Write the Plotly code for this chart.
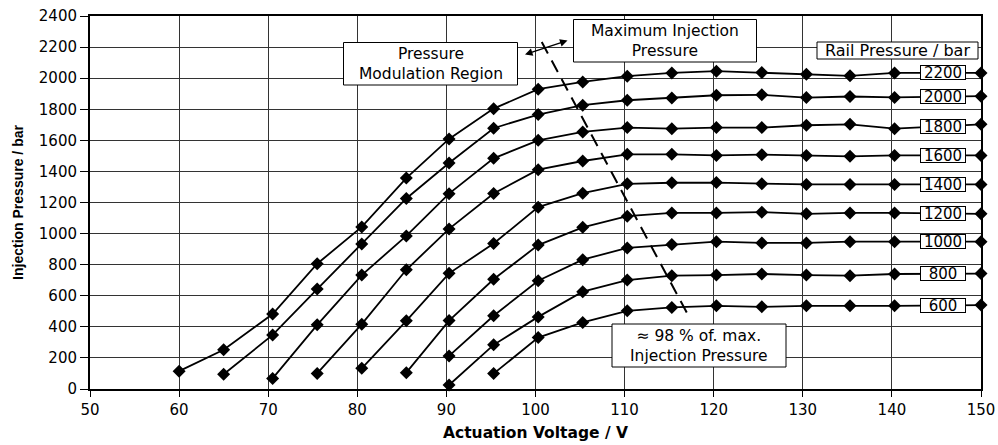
import plotly.graph_objects as go

# ---- data ----
voltage = [60, 65, 70.5, 75.5, 80.5, 85.5, 90.3, 95.3, 100.3, 105.3, 110.3,
           115.3, 120.3, 125.4, 130.4, 135.3, 140.3, 150]

rail_pressures = [2200, 2000, 1800, 1600, 1400, 1200, 1000, 800, 600]

inj_2200 = [115, 252, 482, 806, 1043, 1357, 1609, 1804, 1929, 1976, 2013, 2034, 2045, 2036, 2025, 2015, 2034, 2034]
inj_2000 = [None, 95, 348, 643, 933, 1226, 1454, 1678, 1766, 1826, 1858, 1873, 1890, 1893, 1875, 1882, 1876, 1884]
inj_1800 = [None, None, 68, 413, 733, 985, 1257, 1484, 1600, 1654, 1682, 1675, 1682, 1682, 1697, 1703, 1675, 1703]
inj_1600 = [None, None, None, 100, 417, 767, 1030, 1258, 1411, 1467, 1510, 1510, 1503, 1508, 1503, 1497, 1503, 1503]
inj_1400 = [None, None, None, None, 133, 439, 744, 936, 1170, 1260, 1320, 1327, 1328, 1320, 1316, 1316, 1316, 1316]
inj_1200 = [None, None, None, None, None, 105, 440, 706, 926, 1040, 1112, 1133, 1133, 1138, 1127, 1133, 1133, 1127]
inj_1000 = [None, None, None, None, None, None, 213, 471, 697, 832, 908, 929, 948, 940, 940, 948, 948, 948]
inj_800 = [None, None, None, None, None, None, 26, 284, 464, 626, 701, 729, 733, 740, 733, 729, 740, 743]
inj_600 = [None, None, None, None, None, None, None, 99, 331, 428, 503, 525, 535, 529, 535, 535, 535, 540]

series = {2200: inj_2200, 2000: inj_2000, 1800: inj_1800, 1600: inj_1600,
          1400: inj_1400, 1200: inj_1200, 1000: inj_1000, 800: inj_800, 600: inj_600}

x_ticks = [50, 60, 70, 80, 90, 100, 110, 120, 130, 140, 150]
y_ticks = [0, 200, 400, 600, 800, 1000, 1200, 1400, 1600, 1800, 2000, 2200, 2400]

# dashed "98 %" boundary line (data coordinates)
boundary_x = [100.7, 117.3]
boundary_y = [2233, 457]
label_x = 145.7

TXT = "DejaVu Sans"

fig = go.Figure()
for rp in rail_pressures:
    vals = series[rp]
    xs = [v for v, p in zip(voltage, vals) if p is not None]
    ys = [p for p in vals if p is not None]
    fig.add_trace(go.Scatter(
        x=xs, y=ys, mode="lines+markers",
        line=dict(color="black", width=1.8),
        marker=dict(symbol="diamond", size=10, color="black"),
        cliponaxis=False, showlegend=False, name=str(rp)))

# layout geometry (pixels)
L, R, T, B = 90, 17, 16, 56
W, H = 998, 445
pw, ph = W - L - R, H - T - B


def px(xp):
    return (xp - L) / pw


def py(yp):
    return (H - B - yp) / ph


annotations = []
shapes = []

# rail pressure labels on the lines
for rp in rail_pressures:
    vals = series[rp]
    annotations.append(dict(
        x=label_x, y=(vals[-1] + vals[-2]) / 2, xref="x", yref="y",
        text=str(rp), showarrow=False, bgcolor="white", bordercolor="black",
        borderwidth=1, borderpad=0, width=44, height=13,
        font=dict(family=TXT, size=15, color="black")))


def boxed(x0, y0, x1, y1, text, size=15.5):
    shapes.append(dict(type="rect", xref="paper", yref="paper",
                       x0=px(x0), x1=px(x1), y0=py(y1), y1=py(y0),
                       line=dict(color="black", width=1), fillcolor="white",
                       layer="above"))
    annotations.append(dict(
        x=px((x0 + x1) / 2), y=py((y0 + y1) / 2), xref="paper", yref="paper",
        text=text, showarrow=False, xanchor="center", yanchor="middle",
        align="center", font=dict(family=TXT, size=size, color="black")))


boxed(343.5, 42.5, 517.5, 85, "Pressure<br>Modulation Region")
boxed(573.5, 19.5, 756.5, 62, "Maximum Injection<br>Pressure")
boxed(612, 324, 786, 367, "\u2248 98 % of. max.<br>Injection Pressure")
boxed(817, 42, 978, 59, "Rail Pressure / bar", size=16)

# double-headed arrow
annotations.append(dict(
    x=px(567.5), y=py(40.5), xref="paper", yref="paper", text="",
    showarrow=True, ax=-44, ay=14.5, axref="pixel", ayref="pixel",
    arrowhead=2, startarrowhead=2, arrowside="end+start",
    arrowsize=1, startarrowsize=1, arrowwidth=1.5, arrowcolor="black"))

shapes.insert(0, dict(type="line", xref="x", yref="y",
                      x0=boundary_x[0], y0=boundary_y[0], x1=boundary_x[1], y1=boundary_y[1],
                      line=dict(color="black", width=2, dash="13px,8px"), layer="above"))

fig.update_layout(
    width=W, height=H, autosize=False,
    margin=dict(l=L, r=R, t=T, b=B, pad=0, autoexpand=False),
    paper_bgcolor="white", plot_bgcolor="white",
    annotations=annotations, shapes=shapes,
    xaxis=dict(range=[50, 150], tickvals=x_ticks, ticktext=[str(v) for v in x_ticks],
               showgrid=True, gridcolor="#333333", gridwidth=1,
               showline=True, linecolor="black", linewidth=2, mirror=True,
               ticks="outside", ticklen=6, tickcolor="black", tickwidth=1,
               zeroline=False, automargin=False,
               tickfont=dict(family=TXT, size=15, color="black"),
               title=dict(text="Actuation Voltage / V", standoff=9,
                          font=dict(family="DejaVu Sans", size=15.5, color="black",
                                    weight="bold"))),
    yaxis=dict(range=[0, 2400], tickvals=y_ticks, ticktext=[str(v) for v in y_ticks],
               showgrid=True, gridcolor="#333333", gridwidth=1,
               showline=True, linecolor="black", linewidth=2, mirror=True,
               ticks="outside", ticklen=8, tickcolor="black", tickwidth=1,
               zeroline=False, automargin=False,
               tickfont=dict(family=TXT, size=15, color="black"),
               title=dict(text="Injection Pressure / bar", standoff=12,
                          font=dict(family="Liberation Sans", size=14, color="black",
                                    weight="bold"))),
)

fig.write_html("out.html")
